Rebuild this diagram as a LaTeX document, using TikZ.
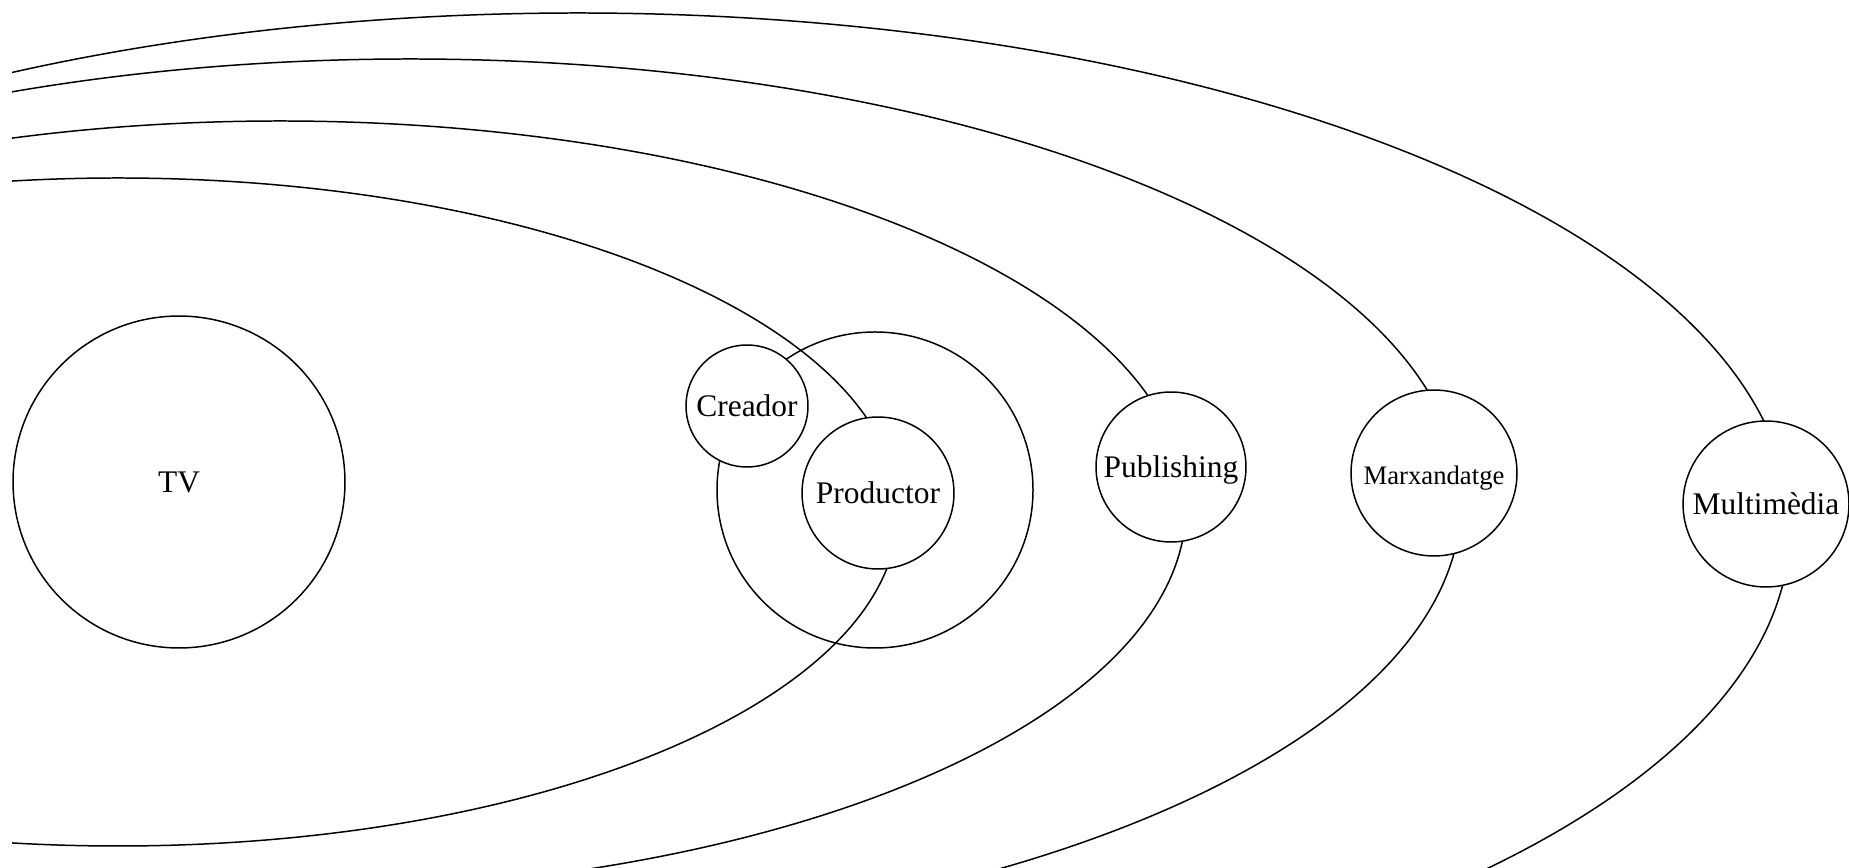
\documentclass[tikz,border=0pt]{standalone}
\usepackage{fontspec}
\setmainfont{Liberation Serif}

\begin{document}
\begin{tikzpicture}[x=0.02cm, y=0.02cm, line width=0.85pt,
  planeta/.style={draw, circle, fill=white, inner sep=0pt, text depth=0pt,
    font=\fontsize{17.9}{20}\selectfont}]

\useasboundingbox (0,0) rectangle (1849,868);
\clip (12,0) rectangle (1849,868);

% Orbites
\draw (118,356) ellipse [x radius=780, y radius=334];
\draw (280,361.5) ellipse [x radius=906, y radius=385.5];
\draw (410,366) ellipse [x radius=1051, y radius=443];
\draw (578,340) ellipse [x radius=1212, y radius=515];

% Cercle gran (Creador + Productor)
\draw (875,378) circle [radius=158];

% TV al centre
\node[planeta, minimum size=6.64cm] (tv) at (179,386) {TV};

% Creador i Productor
\node[planeta, minimum size=2.44cm] (creador) at (747,462) {Creador};
\node[planeta, minimum size=3.04cm] (productor) at (878,375) {Productor};

% Publishing
\node[planeta, minimum size=3.0cm] (publishing) at (1171,401) {Publishing};

% Marxandatge (lletra mes petita)
\node[planeta, minimum size=3.32cm, font=\fontsize{15.2}{17}\selectfont]
  (marxandatge) at (1434,395) {\raisebox{-3.5\dimexpr0.02cm\relax}{Marxandatge}};

% Multimedia
\node[planeta, minimum size=3.32cm] (multimedia) at (1766,364) {Multimèdia};

\end{tikzpicture}
\end{document}
